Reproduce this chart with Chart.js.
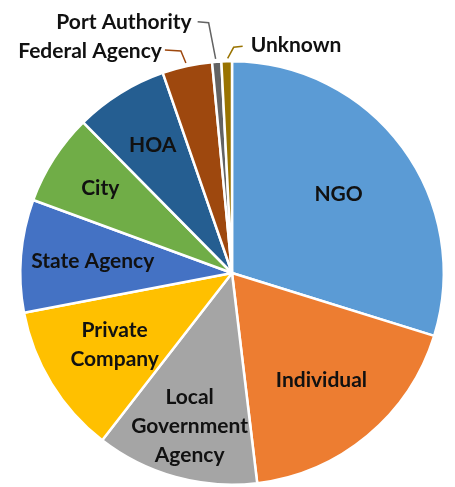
<!DOCTYPE html>
<html>
<head>
<meta charset="utf-8">
<script src="https://cdn.jsdelivr.net/npm/chart.js@4.4.0/dist/chart.umd.min.js"></script>
<style>
html,body{margin:0;padding:0;background:#fff;}
#wrap{position:relative;width:455px;height:487px;}
</style>
</head>
<body>
<div id="wrap"><canvas id="c" width="455" height="487"></canvas></div>
<script>
const categories = ["NGO","Individual","Local Government Agency","Private Company","State Agency","City","HOA","Federal Agency","Port Authority","Unknown"];
const values = [29.8, 18.3, 12.4, 11.5, 8.6, 7.0, 7.1, 3.8, 0.7, 0.8];
const colors = ["#5B9BD5","#ED7D31","#A5A5A5","#FFC000","#4472C4","#70AD47","#255E91","#9E480E","#636363","#997300"];
const labelLines = [["NGO"],["Individual"],["Local","Government","Agency"],["Private","Company"],["State Agency"],["City"],["HOA"],["Federal Agency"],["Port Authority"],["Unknown"]];

// inside label radial fraction (style)
const inFrac = [0.625,0.66,0.75,0.65,0.66,0.74,0.71];
const FONT = "bold 21px Lato";

const labelPlugin = {
  id:'labels',
  afterDatasetsDraw(chart){
    const ctx = chart.ctx;
    const meta = chart.getDatasetMeta(0);
    ctx.save();
    ctx.font = FONT;
    ctx.fillStyle = "#111";
    ctx.textBaseline = "middle";
    meta.data.forEach((arc,i)=>{
      const p = arc.getProps(['x','y','startAngle','endAngle','outerRadius'],true);
      const mid = (p.startAngle+p.endAngle)/2;
      const lines = labelLines[i];
      if(i < inFrac.length){
        const r = p.outerRadius*inFrac[i];
        const cx = p.x + Math.cos(mid)*r, cy = p.y + Math.sin(mid)*r;
        const lh = 29;
        ctx.textAlign = "center";
        lines.forEach((t,k)=>{
          ctx.fillText(t, cx, cy + (k-(lines.length-1)/2)*lh);
        });
      } else {
        const ex = p.x + Math.cos(mid)*(p.outerRadius+1);
        const ey = p.y + Math.sin(mid)*(p.outerRadius+1);
        let pts;
        if(i===7){ pts=[[ex-1,ey-2],[ex-6,ey-14],[ex-22,ey-15]]; }
        else if(i===8){ pts=[[ex-1,ey-2],[ex-8,ey-38],[ex-19,ey-39]]; }
        else { pts=[[ex+1,ey-2],[ex+7,ey-13],[ex+16,ey-14]]; }
        ctx.strokeStyle = colors[i]; ctx.lineWidth = 1.5;
        ctx.beginPath(); ctx.moveTo(pts[0][0],pts[0][1]);
        pts.slice(1).forEach(q=>ctx.lineTo(q[0],q[1]));
        ctx.stroke();
        const last = pts[pts.length-1];
        if(i===9){ ctx.textAlign="left"; ctx.fillText(lines[0], last[0]+8, last[1]-1); }
        else if(i===8){ ctx.textAlign="right"; ctx.fillText(lines[0], last[0]-6, last[1]); }
        else { ctx.textAlign="right"; ctx.fillText(lines[0], last[0]-3, last[1]+1); }
      }
    });
    ctx.restore();
  }
};

new Chart(document.getElementById('c'),{
  type:'pie',
  data:{labels:categories,datasets:[{data:values,backgroundColor:colors,borderColor:"#fff",borderWidth:2.5}]},
  options:{
    responsive:false,animation:false,
    layout:{padding:{left:19,right:10,top:60,bottom:1}},
    plugins:{legend:{display:false},tooltip:{enabled:false}}
  },
  plugins:[labelPlugin]
});
</script>
</body>
</html>
